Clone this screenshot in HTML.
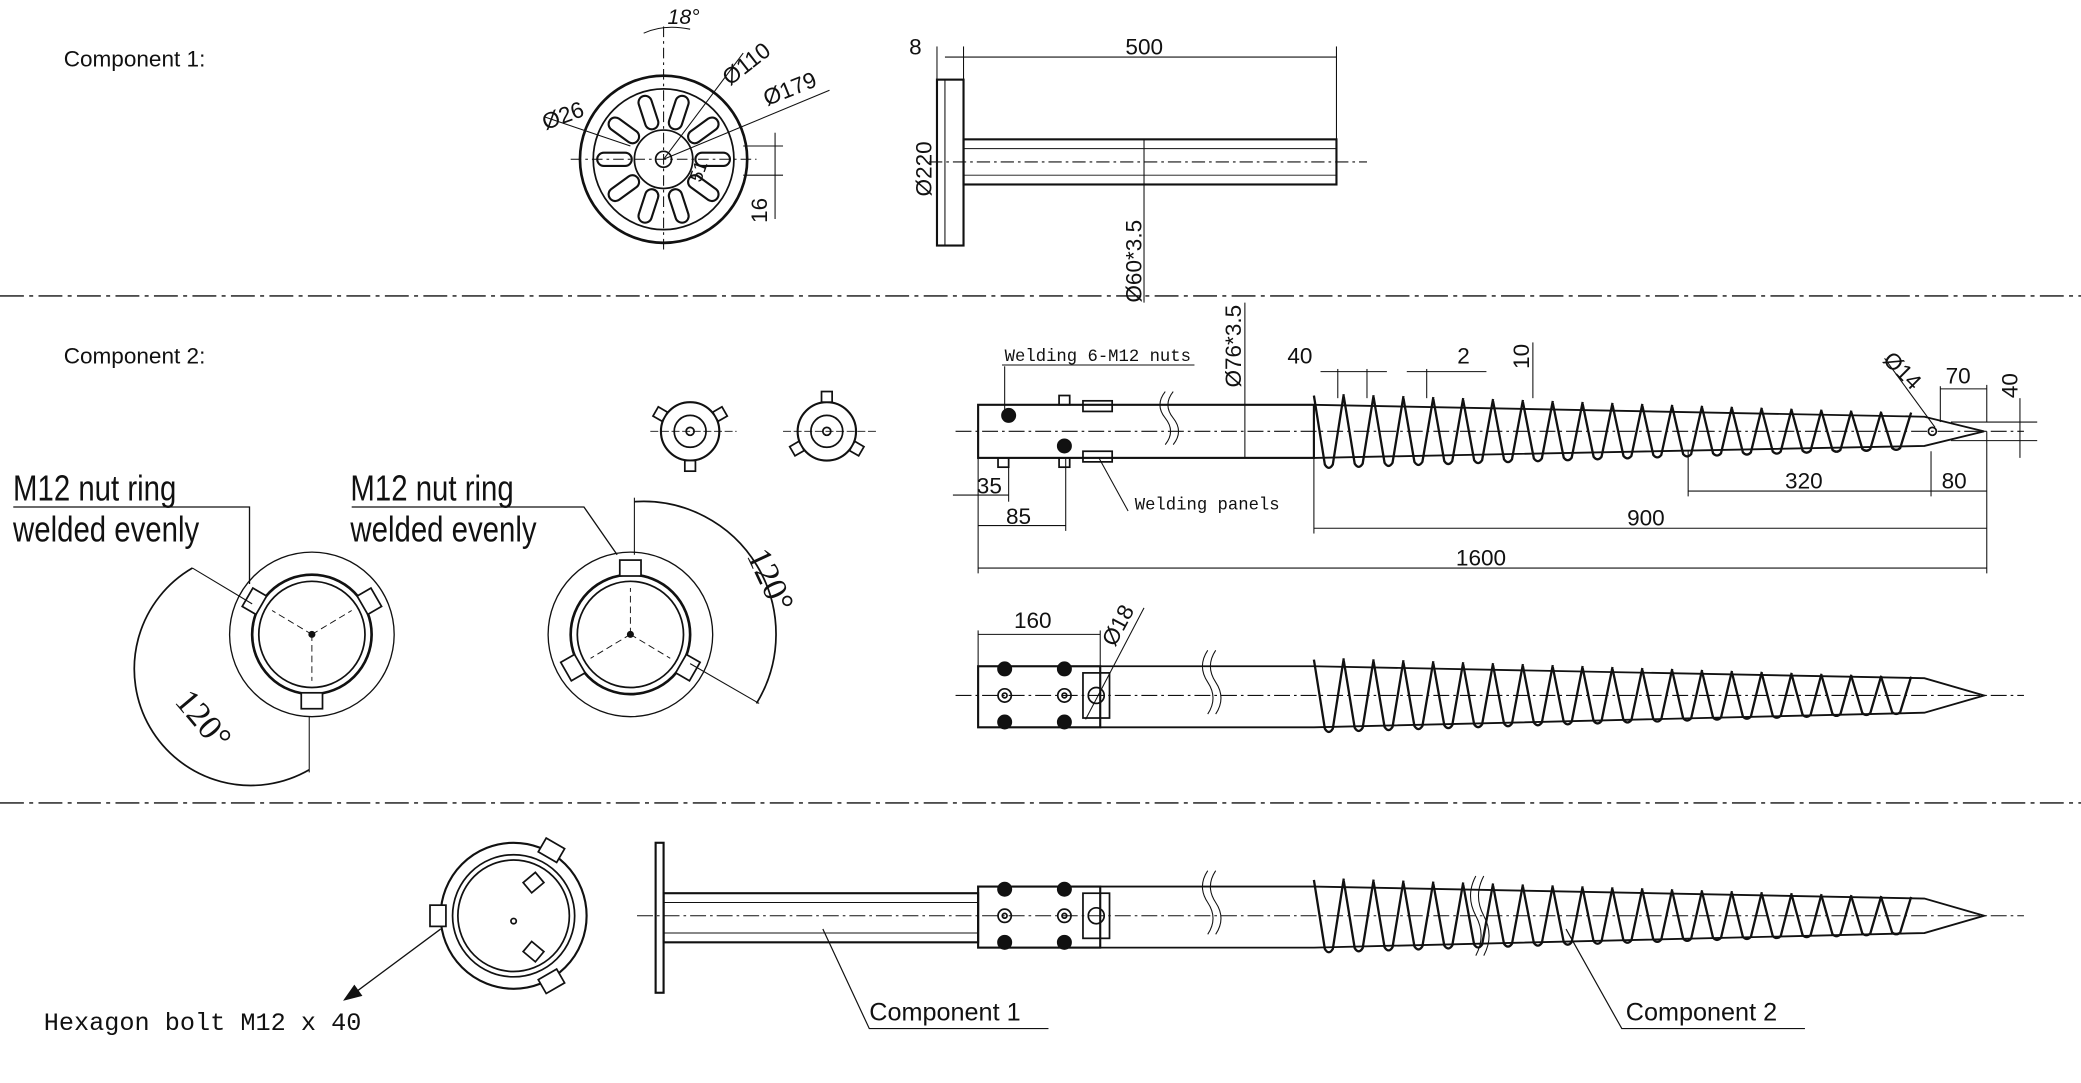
<!DOCTYPE html>
<html><head><meta charset="utf-8">
<style>
html,body{margin:0;padding:0;background:#fff;}
svg{display:block;}
text{font-family:"Liberation Sans",sans-serif;fill:#111;}
.s{font-family:"Liberation Serif",serif;}
.m{font-family:"Liberation Mono",monospace;}
</style></head>
<body>
<svg width="2081" height="1083" viewBox="0 0 1568 816" preserveAspectRatio="none" xmlns="http://www.w3.org/2000/svg" xmlns:xlink="http://www.w3.org/1999/xlink">
<defs>
<path id="turn" d="M0 -27 L8.25 25 Q11.25 30 14.25 25 L22.5 -28" fill="none" stroke="#111" stroke-width="2.3" vector-effect="non-scaling-stroke"/>
<g id="hx">
<use xlink:href="#turn" transform="translate(990,0) scale(1,1)"/>
<use xlink:href="#turn" transform="translate(1012.5,0) scale(1,.974)"/>
<use xlink:href="#turn" transform="translate(1035,0) scale(1,.948)"/>
<use xlink:href="#turn" transform="translate(1057.5,0) scale(1,.922)"/>
<use xlink:href="#turn" transform="translate(1080,0) scale(1,.896)"/>
<use xlink:href="#turn" transform="translate(1102.5,0) scale(1,.87)"/>
<use xlink:href="#turn" transform="translate(1125,0) scale(1,.844)"/>
<use xlink:href="#turn" transform="translate(1147.5,0) scale(1,.818)"/>
<use xlink:href="#turn" transform="translate(1170,0) scale(1,.792)"/>
<use xlink:href="#turn" transform="translate(1192.5,0) scale(1,.766)"/>
<use xlink:href="#turn" transform="translate(1215,0) scale(1,.74)"/>
<use xlink:href="#turn" transform="translate(1237.5,0) scale(1,.714)"/>
<use xlink:href="#turn" transform="translate(1260,0) scale(1,.688)"/>
<use xlink:href="#turn" transform="translate(1282.5,0) scale(1,.662)"/>
<use xlink:href="#turn" transform="translate(1305,0) scale(1,.636)"/>
<use xlink:href="#turn" transform="translate(1327.5,0) scale(1,.61)"/>
<use xlink:href="#turn" transform="translate(1350,0) scale(1,.584)"/>
<use xlink:href="#turn" transform="translate(1372.5,0) scale(1,.558)"/>
<use xlink:href="#turn" transform="translate(1395,0) scale(1,.532)"/>
<use xlink:href="#turn" transform="translate(1417.5,0) scale(1,.506)"/>
</g>
<rect id="slot" x="495" y="70" width="10" height="26" rx="5" fill="none" stroke="#111" stroke-width="1.6"/>
<g id="nutcol" fill="none" stroke="#111" stroke-width="1.3">
<circle cx="0" cy="-20" r="5" fill="#111"/><circle cx="0" cy="0" r="5"/><circle cx="0" cy="0" r="1.8"/><circle cx="0" cy="20" r="5" fill="#111"/>
</g>
</defs>
<rect width="1568" height="816" fill="#fff"/>
<g stroke="#111" fill="none" stroke-width="1.3">
<line x1="0" y1="223" x2="1568" y2="223" stroke-dasharray="18,4,3,4" stroke-width="1"/>
<line x1="0" y1="605" x2="1568" y2="605" stroke-dasharray="18,4,3,4" stroke-width="1"/>

<circle cx="500" cy="120" r="63" stroke-width="2"/>
<circle cx="500" cy="120" r="53"/>
<circle cx="500" cy="120" r="22"/>
<circle cx="500" cy="120" r="6"/>
<use xlink:href="#slot" transform="rotate(18 500 120)"/>
<use xlink:href="#slot" transform="rotate(54 500 120)"/>
<use xlink:href="#slot" transform="rotate(90 500 120)"/>
<use xlink:href="#slot" transform="rotate(126 500 120)"/>
<use xlink:href="#slot" transform="rotate(162 500 120)"/>
<use xlink:href="#slot" transform="rotate(198 500 120)"/>
<use xlink:href="#slot" transform="rotate(234 500 120)"/>
<use xlink:href="#slot" transform="rotate(270 500 120)"/>
<use xlink:href="#slot" transform="rotate(306 500 120)"/>
<use xlink:href="#slot" transform="rotate(342 500 120)"/>
<line x1="430" y1="120" x2="570" y2="120" stroke-dasharray="8,3,2,3" stroke-width="0.8"/>
<line x1="500" y1="20" x2="500" y2="190" stroke-dasharray="8,3,2,3" stroke-width="0.8"/>
<line x1="410" y1="88" x2="475" y2="110" stroke-width="0.8"/>
<line x1="500" y1="120" x2="560" y2="40" stroke-width="0.8"/>
<line x1="500" y1="120" x2="625" y2="68" stroke-width="0.8"/>
<path d="M485 25 Q500 18 520 22" stroke-width="0.8"/>
<line x1="560" y1="110" x2="590" y2="110" stroke-width="0.8"/>
<line x1="560" y1="132" x2="590" y2="132" stroke-width="0.8"/>
<line x1="584" y1="100" x2="584" y2="165" stroke-width="0.8"/>

<rect x="706" y="60" width="20" height="125" stroke-width="1.6"/>
<rect x="726" y="105" width="281" height="34" stroke-width="1.6"/>
<line x1="726" y1="112" x2="1007" y2="112" stroke-width="0.7"/>
<line x1="726" y1="132" x2="1007" y2="132" stroke-width="0.7"/>
<line x1="700" y1="122" x2="1030" y2="122" stroke-dasharray="10,3,2,3" stroke-width="0.8"/>
<line x1="712" y1="43" x2="1007" y2="43" stroke-width="0.8"/>
<line x1="726" y1="35" x2="726" y2="105" stroke-width="0.8"/>
<line x1="1007" y1="35" x2="1007" y2="105" stroke-width="0.8"/>
<line x1="706" y1="35" x2="706" y2="60" stroke-width="0.8"/>
<line x1="712" y1="60" x2="712" y2="185" stroke-width="0.8"/>
<line x1="862" y1="105" x2="862" y2="228" stroke-width="0.8"/>

<rect x="737" y="305" width="253" height="40" stroke-width="1.6"/>
<line x1="720" y1="325" x2="1525" y2="325" stroke-dasharray="12,3,2,3" stroke-width="0.8"/>
<path d="M990 305 L1450 314 L1495 325 L1450 336 L990 345" stroke-width="1.4"/>
<use xlink:href="#hx" transform="translate(0,325)"/>
<rect x="816" y="302" width="22" height="8"/><rect x="816" y="340" width="22" height="8"/>
<rect x="798" y="298" width="8" height="7"/><rect x="798" y="345" width="8" height="7"/>
<rect x="752" y="345" width="8" height="7"/>
<circle cx="760" cy="313" r="5" fill="#111"/><circle cx="802" cy="336" r="5" fill="#111"/>
<circle cx="1456" cy="325" r="3"/>
<path d="M878 295 q-8 10 0 20 q8 10 0 20 M884 295 q-8 10 0 20 q8 10 0 20" stroke-width="0.8"/>
<line x1="737" y1="345" x2="737" y2="432" stroke-width="0.8"/>
<line x1="1497" y1="325" x2="1497" y2="432" stroke-width="0.8"/>
<line x1="737" y1="428" x2="1497" y2="428" stroke-width="0.8"/>
<line x1="990" y1="345" x2="990" y2="402" stroke-width="0.8"/>
<line x1="990" y1="398" x2="1497" y2="398" stroke-width="0.8"/>
<line x1="737" y1="396" x2="803" y2="396" stroke-width="0.8"/>
<line x1="803" y1="345" x2="803" y2="400" stroke-width="0.8"/>
<line x1="718" y1="373" x2="760" y2="373" stroke-width="0.8"/>
<line x1="760" y1="352" x2="760" y2="378" stroke-width="0.8"/>
<line x1="1272" y1="340" x2="1272" y2="374" stroke-width="0.8"/>
<line x1="1272" y1="370" x2="1497" y2="370" stroke-width="0.8"/>
<line x1="1455" y1="340" x2="1455" y2="374" stroke-width="0.8"/>
<line x1="938" y1="228" x2="938" y2="345" stroke-width="0.8"/>
<line x1="1008" y1="278" x2="1008" y2="300" stroke-width="0.8"/>
<line x1="1030" y1="278" x2="1030" y2="300" stroke-width="0.8"/>
<line x1="995" y1="280" x2="1045" y2="280" stroke-width="0.8"/>
<line x1="1060" y1="280" x2="1120" y2="280" stroke-width="0.8"/>
<line x1="1075" y1="278" x2="1075" y2="300" stroke-width="0.8"/>
<line x1="1155" y1="258" x2="1155" y2="300" stroke-width="0.8"/>
<line x1="1462" y1="291" x2="1462" y2="318" stroke-width="0.8"/>
<line x1="1462" y1="293" x2="1497" y2="293" stroke-width="0.8"/>
<line x1="1497" y1="290" x2="1497" y2="318" stroke-width="0.8"/>
<line x1="1470" y1="318" x2="1535" y2="318" stroke-width="0.8"/>
<line x1="1470" y1="332" x2="1535" y2="332" stroke-width="0.8"/>
<line x1="1522" y1="300" x2="1522" y2="345" stroke-width="0.8"/>
<line x1="1420" y1="270" x2="1458" y2="322" stroke-width="0.8"/>
<line x1="755" y1="275" x2="900" y2="275" stroke-width="0.8"/>
<line x1="757" y1="276" x2="757" y2="310" stroke-width="0.8"/>
<line x1="850" y1="385" x2="828" y2="345" stroke-width="0.8"/>

<rect x="737" y="502" width="92" height="46" stroke-width="1.6"/>
<path d="M829 502 L990 502 L1450 511 L1495 524 L1450 537 L990 548 L829 548" stroke-width="1.4"/>
<line x1="720" y1="524" x2="1525" y2="524" stroke-dasharray="12,3,2,3" stroke-width="0.8"/>
<use xlink:href="#hx" transform="translate(0,524)"/>
<use xlink:href="#nutcol" transform="translate(757,524)"/>
<use xlink:href="#nutcol" transform="translate(802,524)"/>
<rect x="816" y="507" width="20" height="34"/>
<circle cx="826" cy="524" r="6"/>
<path d="M910 490 q-8 12 0 24 q8 12 0 24 M916 490 q-8 12 0 24 q8 12 0 24" stroke-width="0.8"/>
<line x1="737" y1="475" x2="737" y2="502" stroke-width="0.8"/>
<line x1="829" y1="475" x2="829" y2="502" stroke-width="0.8"/>
<line x1="737" y1="478" x2="829" y2="478" stroke-width="0.8"/>
<line x1="818" y1="542" x2="862" y2="458" stroke-width="0.8"/>

<circle cx="520" cy="325" r="22" stroke-width="1.6"/><circle cx="520" cy="325" r="12"/><circle cx="520" cy="325" r="3"/>
<circle cx="623" cy="325" r="22" stroke-width="1.6"/><circle cx="623" cy="325" r="12"/><circle cx="623" cy="325" r="3"/>
<line x1="490" y1="325" x2="555" y2="325" stroke-width="0.7" stroke-dasharray="6,2"/>
<line x1="590" y1="325" x2="660" y2="325" stroke-width="0.7" stroke-dasharray="6,2"/>
<g fill="#fff">
<rect x="516" y="295" width="8" height="8" transform="rotate(180 520 325)"/>
<rect x="516" y="295" width="8" height="8" transform="rotate(300 520 325)"/>
<rect x="516" y="295" width="8" height="8" transform="rotate(60 520 325)"/>
<rect x="619" y="295" width="8" height="8"/>
<rect x="619" y="295" width="8" height="8" transform="rotate(120 623 325)"/>
<rect x="619" y="295" width="8" height="8" transform="rotate(240 623 325)"/>
</g>

<circle cx="235" cy="478" r="62" stroke-width="1"/><circle cx="235" cy="478" r="45" stroke-width="2"/><circle cx="235" cy="478" r="40"/>
<circle cx="235" cy="478" r="2" fill="#111"/>
<g stroke-dasharray="5,3" stroke-width="0.7">
<line x1="235" y1="478" x2="205" y2="460"/><line x1="235" y1="478" x2="265" y2="460"/><line x1="235" y1="478" x2="235" y2="513"/>
</g>
<g fill="#fff">
<rect x="227" y="422" width="16" height="12" transform="rotate(-60 235 478)"/>
<rect x="227" y="422" width="16" height="12" transform="rotate(60 235 478)"/>
<rect x="227" y="422" width="16" height="12" transform="rotate(180 235 478)"/>
</g>
<circle cx="475" cy="478" r="62" stroke-width="1"/><circle cx="475" cy="478" r="45" stroke-width="2"/><circle cx="475" cy="478" r="40"/>
<circle cx="475" cy="478" r="2" fill="#111"/>
<g stroke-dasharray="5,3" stroke-width="0.7">
<line x1="475" y1="478" x2="475" y2="443"/><line x1="475" y1="478" x2="505" y2="496"/><line x1="475" y1="478" x2="445" y2="496"/>
</g>
<g fill="#fff">
<rect x="467" y="422" width="16" height="12"/>
<rect x="467" y="422" width="16" height="12" transform="rotate(120 475 478)"/>
<rect x="467" y="422" width="16" height="12" transform="rotate(240 475 478)"/>
</g>
<polyline points="10,382 188,382 188,440" stroke-width="1"/>
<polyline points="265,382 440,382 465,418" stroke-width="1"/>
<path d="M145 428 A82 82 0 0 0 233 580" stroke-width="1.3"/>
<line x1="233" y1="540" x2="233" y2="582" stroke-width="0.8"/>
<line x1="145" y1="428" x2="190" y2="455" stroke-width="0.8"/>
<path d="M478 378 A100 100 0 0 1 570 530" stroke-width="1.3"/>
<line x1="478" y1="375" x2="478" y2="418" stroke-width="0.8"/>
<line x1="520" y1="500" x2="572" y2="530" stroke-width="0.8"/>

<rect x="494" y="635" width="6" height="113" stroke-width="1.6"/>
<rect x="500" y="673" width="237" height="37" stroke-width="1.6"/>
<line x1="500" y1="680" x2="737" y2="680" stroke-width="0.7"/>
<line x1="500" y1="703" x2="737" y2="703" stroke-width="0.7"/>
<rect x="737" y="668" width="92" height="46" stroke-width="1.6"/>
<path d="M829 668 L990 668 L1450 677 L1495 690 L1450 703 L990 714 L829 714" stroke-width="1.4"/>
<line x1="480" y1="690" x2="1525" y2="690" stroke-dasharray="12,3,2,3" stroke-width="0.8"/>
<use xlink:href="#hx" transform="translate(0,690)"/>
<use xlink:href="#nutcol" transform="translate(757,690)"/>
<use xlink:href="#nutcol" transform="translate(802,690)"/>
<rect x="816" y="673" width="20" height="34"/><circle cx="826" cy="690" r="6"/>
<path d="M910 656 q-8 12 0 24 q8 12 0 24 M916 656 q-8 12 0 24 q8 12 0 24 M1112 660 q-8 15 0 30 q8 15 0 30 M1118 660 q-8 15 0 30 q8 15 0 30" stroke-width="0.8"/>
<polyline points="620,700 655,775 790,775" stroke-width="0.9"/>
<polyline points="1180,700 1222,775 1360,775" stroke-width="0.9"/>
<circle cx="387" cy="690" r="55" stroke-width="1.6"/>
<circle cx="387" cy="690" r="46"/><circle cx="387" cy="690" r="42"/>
<circle cx="387" cy="694" r="2"/>
<g fill="#fff">
<rect x="379" y="627" width="16" height="12" transform="rotate(30 387 690)"/>
<rect x="379" y="627" width="16" height="12" transform="rotate(-90 387 690)"/>
<rect x="379" y="627" width="16" height="12" transform="rotate(150 387 690)"/>
</g>
<rect x="396" y="712" width="12" height="10" transform="rotate(40 402 717)"/>
<rect x="396" y="660" width="12" height="10" transform="rotate(-40 402 665)"/>
<line x1="332" y1="700" x2="262" y2="752" stroke-width="1"/>
<path d="M260 753 l12 -3 l-5 -7 z" fill="#111"/>
</g>

<g font-size="17">
<text x="48" y="50">Component 1:</text>
<text x="48" y="274">Component 2:</text>
<text x="655" y="769" font-size="19">Component 1</text>
<text x="1225" y="769" font-size="19">Component 2</text>
<text x="848" y="41">500</text>
<text x="685" y="41">8</text>
<text x="503" y="18" font-style="italic" font-size="16">18°</text>
<text x="411" y="98" transform="rotate(-20 411 98)">Ø26</text>
<text x="550" y="65" transform="rotate(-38 550 65)">Ø110</text>
<text x="578" y="80" transform="rotate(-22 578 80)">Ø179</text>
<text x="528" y="138" transform="rotate(-70 528 138)" font-size="14">51</text>
<text x="578" y="168" transform="rotate(-90 578 168)">16</text>
<text x="702" y="148" transform="rotate(-90 702 148)">Ø220</text>
<text x="860" y="228" transform="rotate(-90 860 228)">Ø60*3.5</text>
<text x="935" y="292" transform="rotate(-90 935 292)">Ø76*3.5</text>
<text x="970" y="274">40</text>
<text x="1098" y="274">2</text>
<text x="1152" y="278" transform="rotate(-90 1152 278)">10</text>
<text x="1418" y="272" transform="rotate(45 1418 272)">Ø14</text>
<text x="1466" y="289">70</text>
<text x="1520" y="300" transform="rotate(-90 1520 300)">40</text>
<text x="1345" y="368">320</text>
<text x="1463" y="368">80</text>
<text x="1226" y="396">900</text>
<text x="1097" y="426">1600</text>
<text x="736" y="372">35</text>
<text x="758" y="395">85</text>
<text x="764" y="473">160</text>
<text x="840" y="488" transform="rotate(-62 840 488)">Ø18</text>
</g>
<g class="m" font-size="13">
<text x="757" y="272" class="m">Welding 6-M12 nuts</text>
<text x="855" y="384" class="m">Welding panels</text>
</g>
<text x="33" y="776" class="m" font-size="19">Hexagon bolt M12 x 40</text>
<g font-size="27" class="s" transform="scale(0.82 1)">
<text x="12" y="377">M12 nut ring</text>
<text x="12" y="408">welded evenly</text>
<text x="322" y="377">M12 nut ring</text>
<text x="322" y="408">welded evenly</text>
</g>
<text x="135" y="540" class="s" font-size="26" transform="rotate(50 145 530)">120°</text>
<text x="555" y="420" class="s" font-size="26" transform="rotate(65 560 425)">120°</text>
</svg>
</body></html>
